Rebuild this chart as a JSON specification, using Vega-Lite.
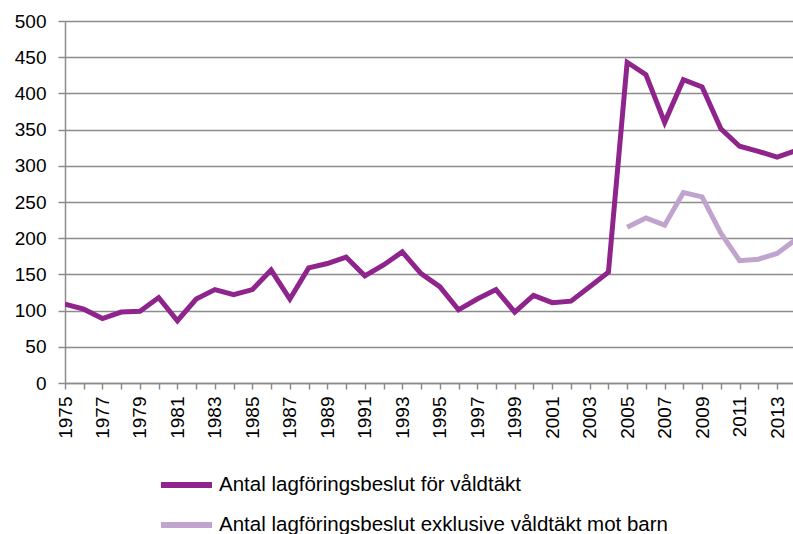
{
  "$schema": "https://vega.github.io/schema/vega-lite/v6.json",
  "autosize": {"type": "none"},
  "width": 728,
  "height": 362,
  "padding": {"left": 65, "top": 21, "right": 0, "bottom": 151},
  "background": "white",
  "config": {
    "view": {"stroke": null},
    "font": "Liberation Sans",
    "axis": {"labelFont": "Liberation Sans", "labelColor": "#000000", "domainColor": "#8c8c8c", "tickColor": "#8c8c8c", "gridColor": "#8c8c8c"}
  },
  "data": {
    "values": [
      {"year": 1975, "series": "Antal lagföringsbeslut för våldtäkt", "value": 109},
      {"year": 1976, "series": "Antal lagföringsbeslut för våldtäkt", "value": 102},
      {"year": 1977, "series": "Antal lagföringsbeslut för våldtäkt", "value": 89},
      {"year": 1978, "series": "Antal lagföringsbeslut för våldtäkt", "value": 98},
      {"year": 1979, "series": "Antal lagföringsbeslut för våldtäkt", "value": 99},
      {"year": 1980, "series": "Antal lagföringsbeslut för våldtäkt", "value": 118},
      {"year": 1981, "series": "Antal lagföringsbeslut för våldtäkt", "value": 86},
      {"year": 1982, "series": "Antal lagföringsbeslut för våldtäkt", "value": 116},
      {"year": 1983, "series": "Antal lagföringsbeslut för våldtäkt", "value": 129},
      {"year": 1984, "series": "Antal lagföringsbeslut för våldtäkt", "value": 122},
      {"year": 1985, "series": "Antal lagföringsbeslut för våldtäkt", "value": 129},
      {"year": 1986, "series": "Antal lagföringsbeslut för våldtäkt", "value": 156},
      {"year": 1987, "series": "Antal lagföringsbeslut för våldtäkt", "value": 116},
      {"year": 1988, "series": "Antal lagföringsbeslut för våldtäkt", "value": 159},
      {"year": 1989, "series": "Antal lagföringsbeslut för våldtäkt", "value": 165},
      {"year": 1990, "series": "Antal lagföringsbeslut för våldtäkt", "value": 174},
      {"year": 1991, "series": "Antal lagföringsbeslut för våldtäkt", "value": 148},
      {"year": 1992, "series": "Antal lagföringsbeslut för våldtäkt", "value": 163},
      {"year": 1993, "series": "Antal lagföringsbeslut för våldtäkt", "value": 181},
      {"year": 1994, "series": "Antal lagföringsbeslut för våldtäkt", "value": 151},
      {"year": 1995, "series": "Antal lagföringsbeslut för våldtäkt", "value": 133},
      {"year": 1996, "series": "Antal lagföringsbeslut för våldtäkt", "value": 101},
      {"year": 1997, "series": "Antal lagföringsbeslut för våldtäkt", "value": 116},
      {"year": 1998, "series": "Antal lagföringsbeslut för våldtäkt", "value": 129},
      {"year": 1999, "series": "Antal lagföringsbeslut för våldtäkt", "value": 98},
      {"year": 2000, "series": "Antal lagföringsbeslut för våldtäkt", "value": 121},
      {"year": 2001, "series": "Antal lagföringsbeslut för våldtäkt", "value": 111},
      {"year": 2002, "series": "Antal lagföringsbeslut för våldtäkt", "value": 113},
      {"year": 2003, "series": "Antal lagföringsbeslut för våldtäkt", "value": 133},
      {"year": 2004, "series": "Antal lagföringsbeslut för våldtäkt", "value": 153},
      {"year": 2005, "series": "Antal lagföringsbeslut för våldtäkt", "value": 443},
      {"year": 2006, "series": "Antal lagföringsbeslut för våldtäkt", "value": 426},
      {"year": 2007, "series": "Antal lagföringsbeslut för våldtäkt", "value": 360},
      {"year": 2008, "series": "Antal lagföringsbeslut för våldtäkt", "value": 419},
      {"year": 2009, "series": "Antal lagföringsbeslut för våldtäkt", "value": 409},
      {"year": 2010, "series": "Antal lagföringsbeslut för våldtäkt", "value": 351},
      {"year": 2011, "series": "Antal lagföringsbeslut för våldtäkt", "value": 327},
      {"year": 2012, "series": "Antal lagföringsbeslut för våldtäkt", "value": 320},
      {"year": 2013, "series": "Antal lagföringsbeslut för våldtäkt", "value": 312},
      {"year": 2014, "series": "Antal lagföringsbeslut för våldtäkt", "value": 321},
      {"year": 2005, "series": "Antal lagföringsbeslut exklusive våldtäkt mot barn", "value": 215},
      {"year": 2006, "series": "Antal lagföringsbeslut exklusive våldtäkt mot barn", "value": 228},
      {"year": 2007, "series": "Antal lagföringsbeslut exklusive våldtäkt mot barn", "value": 218},
      {"year": 2008, "series": "Antal lagföringsbeslut exklusive våldtäkt mot barn", "value": 263},
      {"year": 2009, "series": "Antal lagföringsbeslut exklusive våldtäkt mot barn", "value": 257},
      {"year": 2010, "series": "Antal lagföringsbeslut exklusive våldtäkt mot barn", "value": 207},
      {"year": 2011, "series": "Antal lagföringsbeslut exklusive våldtäkt mot barn", "value": 169},
      {"year": 2012, "series": "Antal lagföringsbeslut exklusive våldtäkt mot barn", "value": 171},
      {"year": 2013, "series": "Antal lagföringsbeslut exklusive våldtäkt mot barn", "value": 179},
      {"year": 2014, "series": "Antal lagföringsbeslut exklusive våldtäkt mot barn", "value": 198}
    ]
  },
  "mark": {"type": "line", "strokeWidth": 5, "clip": true},
  "encoding": {
    "x": {
      "field": "year",
      "type": "quantitative",
      "scale": {"domain": [1975, 2013.85], "nice": false, "zero": false},
      "axis": {
        "title": null,
        "values": [1975,1976,1977,1978,1979,1980,1981,1982,1983,1984,1985,1986,1987,1988,1989,1990,1991,1992,1993,1994,1995,1996,1997,1998,1999,2000,2001,2002,2003,2004,2005,2006,2007,2008,2009,2010,2011,2012,2013],
        "format": "d",
        "labelExpr": "datum.value % 2 == 1 ? datum.label : ''",
        "labelAngle": -90,
        "labelFontSize": 19,
        "labelPadding": 7,
        "labelOverlap": false,
        "labelFlush": false,
        "tickSize": 6,
        "tickWidth": 1.5,
        "domainWidth": 1.5,
        "grid": false
      }
    },
    "y": {
      "field": "value",
      "type": "quantitative",
      "scale": {"domain": [0, 500], "nice": false},
      "axis": {
        "title": null,
        "values": [0, 50, 100, 150, 200, 250, 300, 350, 400, 450, 500],
        "labelFontSize": 19,
        "labelPadding": 12,
        "tickSize": 7,
        "tickWidth": 1.5,
        "domainWidth": 1.5,
        "grid": true,
        "gridWidth": 1.5
      }
    },
    "color": {
      "field": "series",
      "type": "nominal",
      "scale": {
        "domain": ["Antal lagföringsbeslut för våldtäkt", "Antal lagföringsbeslut exklusive våldtäkt mot barn"],
        "range": ["#8E248C", "#C1A4CD"]
      },
      "legend": {
        "title": null,
        "orient": "none",
        "legendX": 93,
        "legendY": 454,
        "direction": "vertical",
        "padding": 0,
        "symbolType": "stroke",
        "symbolSize": 2600,
        "symbolStrokeWidth": 6,
        "symbolOffset": 0,
        "clipHeight": 20,
        "rowPadding": 19,
        "labelFontSize": 20.5,
        "labelFont": "Liberation Sans",
        "labelColor": "#000000",
        "labelOffset": 4,
        "labelLimit": 0
      }
    }
  }
}
